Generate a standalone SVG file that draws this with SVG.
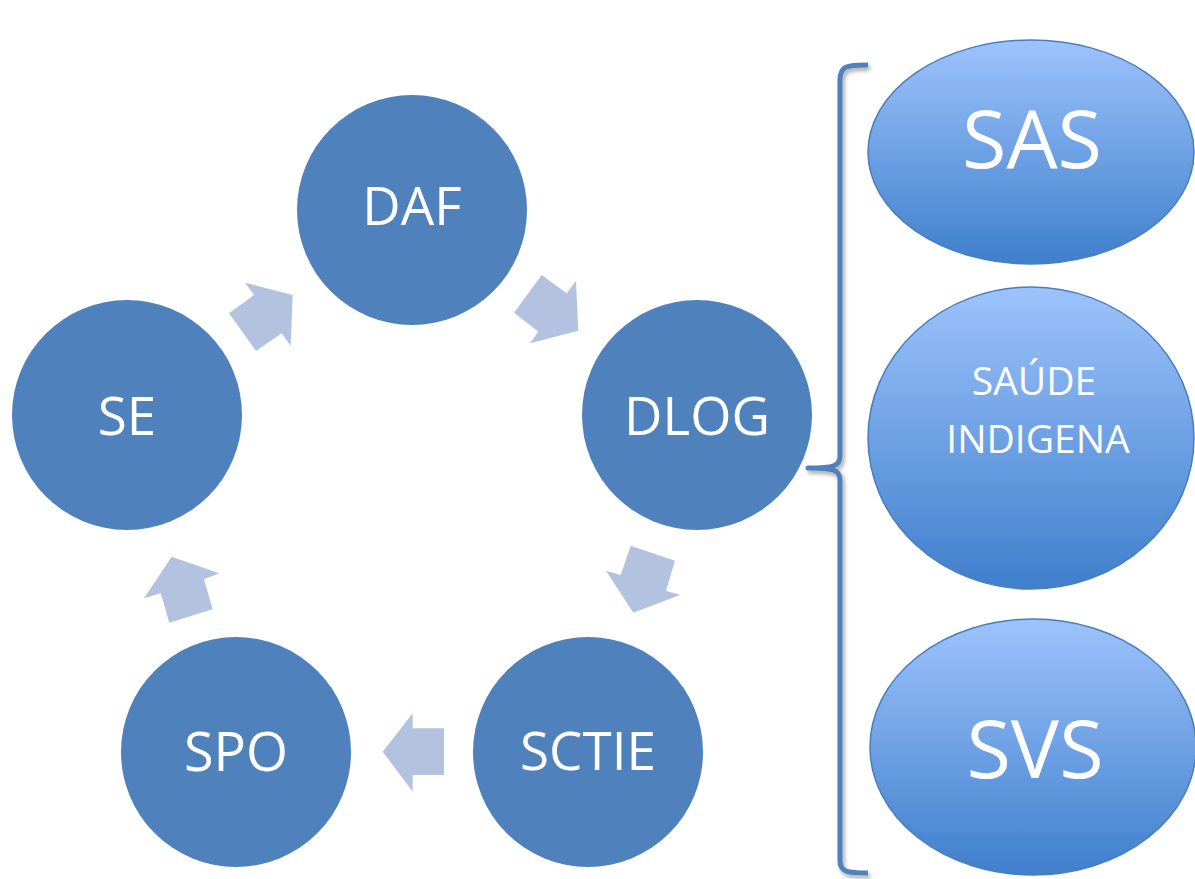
<svg xmlns="http://www.w3.org/2000/svg" width="1195" height="879" viewBox="0 0 1195 879">
<style>
.c{fill:#4F81BD}
.e{fill:url(#g);stroke:#4A7EBB;stroke-width:1.5}
.t{font-family:"Open Sans","Liberation Sans",sans-serif;fill:#FFFFFF;text-anchor:middle}
.a{fill:#B3C3DF}
.br{fill:none;stroke:#4F81BD;stroke-width:5;stroke-linecap:butt;stroke-linejoin:round}
</style>
<defs>
<linearGradient id="g" x1="0" y1="0" x2="0" y2="1">
<stop offset="0" stop-color="#9DC3FC"/>
<stop offset="1" stop-color="#3F7FCC"/>
</linearGradient>
<filter id="sh" x="-50%" y="-5%" width="200%" height="110%">
<feGaussianBlur in="SourceAlpha" stdDeviation="2"/>
<feOffset dx="2" dy="3" result="b"/>
<feComponentTransfer><feFuncA type="linear" slope="0.35"/></feComponentTransfer>
<feMerge><feMergeNode/><feMergeNode in="SourceGraphic"/></feMerge>
</filter>
</defs>
<g id="connectors">
<polygon class="a" points="245,282.7 292.7,295 290.7,346 281.7,333.3 256,351 229,313.3 254,295"/>
<polygon class="a" points="541.7,275 566.7,293.3 576,280.7 578.3,330.7 530,343.3 538.3,331.7 514,312.7"/>
<polygon class="a" points="630.7,545.7 675,560.7 666,590.7 680,595 633.3,612.7 606,570.7 620.7,575"/>
<polygon class="a" points="412.7,713.3 412.7,728.3 444,728.3 444,775 412.7,775 412.7,791.7 382.7,751.7"/>
<polygon class="a" points="171.7,556.7 219.3,573.3 204,579.3 212.7,609.3 169.3,622.7 160.7,593.3 144,598.3"/>
</g>
<g id="bracket" filter="url(#sh)">
<path class="br" d="M868,65 C846,65 840,66 840,80 L840,456 C840,466 834,468 808,468 C834,468 840,470 840,480 L840,860 C840,872 846,873 868,873"/>
</g>
<g id="node-daf"><circle class="c" cx="412" cy="210" r="115"/><text class="t" x="412" y="225" font-size="53">DAF</text></g>
<g id="node-dlog"><circle class="c" cx="697" cy="415" r="115"/><text class="t" x="697" y="435" font-size="53">DLOG</text></g>
<g id="node-se"><circle class="c" cx="127" cy="415" r="115"/><text class="t" x="127" y="435" font-size="53">SE</text></g>
<g id="node-spo"><circle class="c" cx="236" cy="752" r="115"/><text class="t" x="236" y="771" font-size="54">SPO</text></g>
<g id="node-sctie"><circle class="c" cx="588" cy="752" r="115"/><text class="t" x="588" y="770" font-size="53">SCTIE</text></g>
<g id="node-sas"><ellipse class="e" cx="1031" cy="152" rx="163" ry="112"/><text class="t" x="1032" y="168" font-size="81">SAS</text></g>
<g id="node-saude"><ellipse class="e" cx="1031" cy="438" rx="163" ry="151"/><text class="t" x="1034" y="395" font-size="39">SAÚDE</text><text class="t" x="1038" y="453" font-size="39">INDIGENA</text></g>
<g id="node-svs"><ellipse class="e" cx="1033" cy="747" rx="163" ry="128"/><text class="t" x="1035" y="778" font-size="81">SVS</text></g>
</svg>
